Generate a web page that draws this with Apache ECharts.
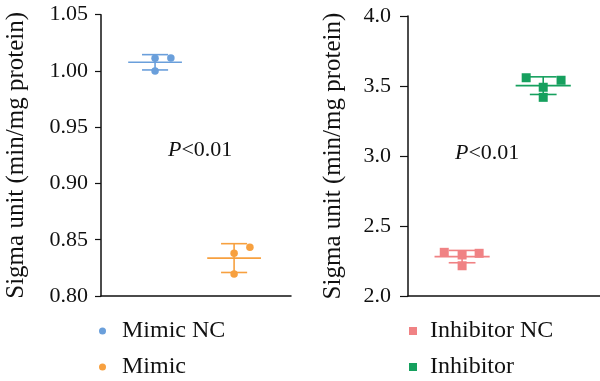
<!DOCTYPE html>
<html><head><meta charset="utf-8">
<script src="https://cdn.jsdelivr.net/npm/echarts@6/dist/echarts.min.js"></script>
<style>html,body{margin:0;padding:0;background:#fff}#c{width:600px;height:381px}</style>
</head><body><div id="c"></div>
<script>
// ---- data ----
const leftGroups = ['Mimic NC', 'Mimic'];
const rightGroups = ['Inhibitor NC', 'Inhibitor'];
// individual points: [x offset within group, value]
const mimicNCPoints = [[0, 1.0113], [0.2, 1.0116], [0, 1.0000]];
const mimicPoints = [[0.2, 0.8434], [0, 0.8381], [0, 0.8195]];
const inhNCPoints = [[-0.22, 2.312], [0, 2.293], [0.21, 2.305], [0, 2.216]];
const inhPoints = [[-0.21, 3.559], [0.22, 3.541], [0, 3.491], [0, 3.419]];
// mean and SD per group
const leftMeans = [1.0077, 0.8337];
const leftSD = [0.0068, 0.0128];
const rightMeans = [2.2815, 3.5025];
const rightSD = [0.044, 0.063];
const leftTicks = [0.80, 0.85, 0.90, 0.95, 1.00, 1.05];
const rightTicks = [2.0, 2.5, 3.0, 3.5, 4.0];
const pText = 'P<0.01';

const colors = {'Mimic NC': '#6a9fdb', 'Mimic': '#f7a03f', 'Inhibitor NC': '#f08284', 'Inhibitor': '#16a05e'};
const FONT = '"Liberation Serif", "Times New Roman", serif';

function pts(arr, g) { return arr.map(p => [g + p[0], p[1]]); }

function errSeries(xi, yi, means, sds, names) {
  return {
    type: 'custom', xAxisIndex: xi, yAxisIndex: yi, silent: true, z: 1,
    data: means.map((m, i) => [i + 1, m, sds[i]]),
    renderItem: function (params, api) {
      const x = api.value(0), m = api.value(1), s = api.value(2);
      const c = colors[names[params.dataIndex]];
      const p = (a, b) => api.coord([a, b]);
      const st = {stroke: c, lineWidth: 1.6};
      const seg = (a, b) => ({type: 'line', shape: {x1: a[0], y1: a[1], x2: b[0], y2: b[1]}, style: st});
      return {type: 'group', children: [
        seg(p(x - 0.34, m), p(x + 0.34, m)),
        seg(p(x, m - s), p(x, m + s)),
        seg(p(x - 0.165, m + s), p(x + 0.165, m + s)),
        seg(p(x - 0.165, m - s), p(x + 0.165, m - s))
      ]};
    }
  };
}

const axisLine = {lineStyle: {color: '#111', width: 1.5}};
const labelStyle = {color: '#111', fontFamily: FONT, fontSize: 22};
const pRich = {i: {fontStyle: 'italic', fontFamily: FONT, fontSize: 22, fill: '#111'}};

const option = {
  animation: false,
  grid: [
    {left: 101, top: 14.7, width: 190, height: 281.3},
    {left: 408, top: 16, width: 192, height: 280}
  ],
  xAxis: [
    {gridIndex: 0, type: 'value', min: 0.316, max: 2.72, axisLine: axisLine, axisTick: {show: false}, axisLabel: {show: false}, splitLine: {show: false}},
    {gridIndex: 1, type: 'value', min: 0.333, max: 2.70, axisLine: axisLine, axisTick: {show: false}, axisLabel: {show: false}, splitLine: {show: false}}
  ],
  yAxis: [
    {gridIndex: 0, type: 'value', min: 0.80, max: 1.05, interval: 0.05,
     axisLine: {show: true, lineStyle: {color: '#111', width: 1.5}},
     axisTick: {show: true, length: 6, lineStyle: {color: '#111', width: 1.2}},
     axisLabel: Object.assign({margin: 13, formatter: v => v.toFixed(2)}, labelStyle),
     splitLine: {show: false},
     name: 'Sigma unit (min/mg protein)', nameLocation: 'middle', nameGap: 72,
     nameTextStyle: {color: '#111', fontFamily: FONT, fontSize: 25}},
    {gridIndex: 1, type: 'value', min: 2.0, max: 4.0, interval: 0.5,
     axisLine: {show: true, lineStyle: {color: '#111', width: 1.5}},
     axisTick: {show: true, length: 8, lineStyle: {color: '#111', width: 1.2}},
     axisLabel: Object.assign({margin: 17, formatter: v => v.toFixed(1)}, labelStyle),
     splitLine: {show: false},
     name: 'Sigma unit (min/mg protein)', nameLocation: 'middle', nameGap: 62,
     nameTextStyle: {color: '#111', fontFamily: FONT, fontSize: 25}}
  ],
  legend: [
    {data: leftGroups, orient: 'vertical', left: 99, top: 319, padding: 0, itemGap: 12, icon: 'circle', itemWidth: 7, itemHeight: 7,
     textStyle: {color: '#111', fontFamily: FONT, fontSize: 24, padding: [0, 0, 0, 11]}},
    {data: rightGroups, orient: 'vertical', left: 409, top: 319, padding: 0, itemGap: 12, icon: 'rect', itemWidth: 8, itemHeight: 8,
     textStyle: {color: '#111', fontFamily: FONT, fontSize: 24, padding: [0, 0, 0, 8]}}
  ],
  graphic: [
    {type: 'text', left: 168, top: 139, style: {text: '{i|P}<0.01', fill: '#111', font: '22px ' + FONT, rich: pRich}},
    {type: 'text', left: 455, top: 142, style: {text: '{i|P}<0.01', fill: '#111', font: '22px ' + FONT, rich: pRich}}
  ],
  series: [
    errSeries(0, 0, leftMeans, leftSD, leftGroups),
    errSeries(1, 1, rightMeans, rightSD, rightGroups),
    {name: 'Mimic NC', type: 'scatter', xAxisIndex: 0, yAxisIndex: 0, symbol: 'circle', symbolSize: 7.5, z: 3,
     itemStyle: {color: colors['Mimic NC'], opacity: 1}, data: pts(mimicNCPoints, 1)},
    {name: 'Mimic', type: 'scatter', xAxisIndex: 0, yAxisIndex: 0, symbol: 'circle', symbolSize: 7.5, z: 3,
     itemStyle: {color: colors['Mimic'], opacity: 1}, data: pts(mimicPoints, 2)},
    {name: 'Inhibitor NC', type: 'scatter', xAxisIndex: 1, yAxisIndex: 1, symbol: 'rect', symbolSize: 9, z: 3,
     itemStyle: {color: colors['Inhibitor NC'], opacity: 1}, data: pts(inhNCPoints, 1)},
    {name: 'Inhibitor', type: 'scatter', xAxisIndex: 1, yAxisIndex: 1, symbol: 'rect', symbolSize: 9, z: 3,
     itemStyle: {color: colors['Inhibitor'], opacity: 1}, data: pts(inhPoints, 2)}
  ]
};
const chart = echarts.init(document.getElementById('c'), null, {renderer: 'canvas'});
chart.setOption(option);
</script></body></html>
